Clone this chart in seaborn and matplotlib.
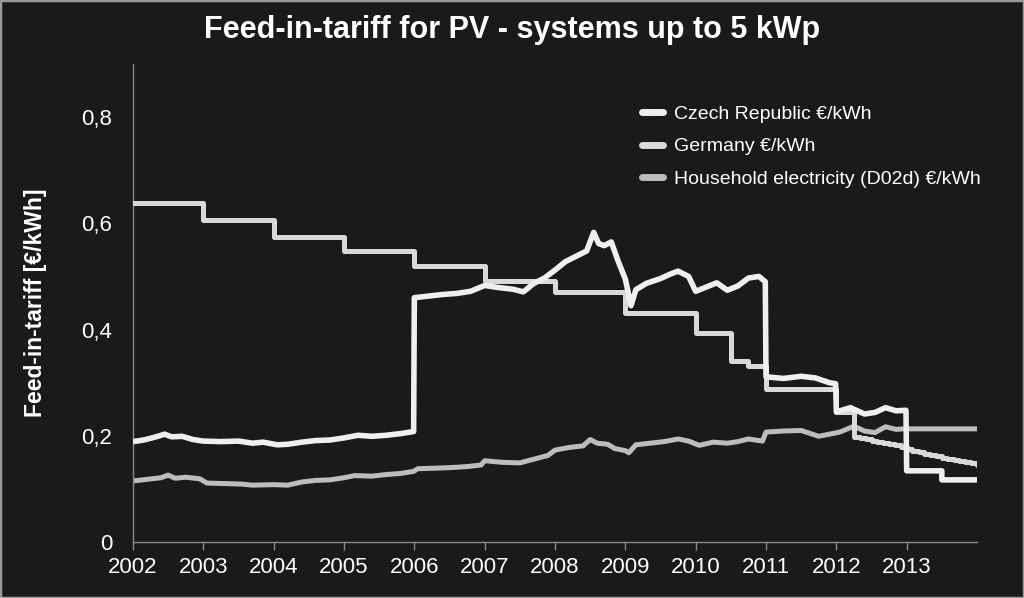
import numpy as np
import pandas as pd
import matplotlib
matplotlib.use("Agg")
import matplotlib.pyplot as plt
from matplotlib.patches import Rectangle
import seaborn as sns

sns.set_theme(style="ticks")
plt.rcParams['font.family'] = ['Liberation Sans', 'DejaVu Sans']

# Czech Republic feed-in tariff (converted to EUR, so it wiggles with the exchange rate)
cz_year = [2002.00, 2002.15, 2002.30, 2002.45, 2002.55, 2002.70, 2002.85, 2003.00,
           2003.25, 2003.50, 2003.70, 2003.85, 2004.05, 2004.20, 2004.40, 2004.60,
           2004.80, 2005.00, 2005.20, 2005.40, 2005.60, 2005.80, 2005.99,
           2006.00, 2006.20, 2006.40, 2006.60, 2006.80, 2007.00, 2007.20, 2007.40,
           2007.55, 2007.70, 2007.85, 2008.00, 2008.15, 2008.30, 2008.45, 2008.55,
           2008.62, 2008.70, 2008.80, 2008.90, 2009.00, 2009.08, 2009.15, 2009.30,
           2009.50, 2009.65, 2009.75, 2009.90, 2010.00, 2010.15, 2010.30, 2010.45,
           2010.60, 2010.75, 2010.90, 2010.99,
           2011.00, 2011.25, 2011.50, 2011.70, 2011.90, 2011.99,
           2012.00, 2012.20, 2012.40, 2012.55, 2012.70, 2012.85, 2012.99,
           2013.00, 2013.50, 2013.50, 2014.00]
cz_value = [0.189, 0.192, 0.197, 0.203, 0.198, 0.199, 0.193, 0.190,
            0.189, 0.190, 0.186, 0.188, 0.183, 0.184, 0.188, 0.191,
            0.192, 0.196, 0.201, 0.199, 0.201, 0.204, 0.208,
            0.460, 0.463, 0.466, 0.468, 0.472, 0.483, 0.479, 0.476,
            0.471, 0.487, 0.497, 0.512, 0.528, 0.538, 0.548, 0.583,
            0.562, 0.558, 0.565, 0.528, 0.495, 0.445, 0.475, 0.487,
            0.496, 0.505, 0.510, 0.500, 0.472, 0.480, 0.488, 0.474,
            0.482, 0.497, 0.500, 0.490,
            0.311, 0.308, 0.312, 0.309, 0.300, 0.298,
            0.245, 0.253, 0.241, 0.244, 0.253, 0.247, 0.248,
            0.134, 0.134, 0.117, 0.117]

# Germany feed-in tariff (step function)
de_year = [2002.0, 2003.0, 2004.0, 2005.0, 2006.0, 2007.0, 2008.0, 2009.0, 2010.0,
           2010.5, 2010.75, 2011.0, 2012.0, 2012.25, 2012.33, 2012.42, 2012.5,
           2012.58, 2012.67, 2012.75, 2012.83, 2012.92, 2013.0, 2013.08, 2013.17,
           2013.25, 2013.33, 2013.42, 2013.5, 2013.58, 2013.67, 2013.75, 2013.83,
           2013.92, 2014.0]
de_value = [0.638, 0.607, 0.575, 0.547, 0.519, 0.492, 0.470, 0.432, 0.394,
            0.341, 0.332, 0.289, 0.245, 0.198, 0.195, 0.193, 0.191,
            0.189, 0.187, 0.185, 0.183, 0.179, 0.175, 0.172, 0.169,
            0.166, 0.163, 0.161, 0.158, 0.156, 0.154, 0.152, 0.150,
            0.148, 0.145]

# Household electricity price D02d
hh_year = [2002.00, 2002.20, 2002.40, 2002.50, 2002.60, 2002.75, 2002.95, 2003.05,
           2003.30, 2003.55, 2003.70, 2004.00, 2004.20, 2004.40, 2004.60, 2004.80,
           2005.00, 2005.15, 2005.40, 2005.60, 2005.80, 2005.99, 2006.05, 2006.30,
           2006.50, 2006.75, 2006.95, 2007.00, 2007.25, 2007.50, 2007.70, 2007.90,
           2008.00, 2008.20, 2008.40, 2008.50, 2008.60, 2008.75, 2008.85, 2009.00,
           2009.05, 2009.15, 2009.35, 2009.55, 2009.75, 2009.90, 2010.05, 2010.25,
           2010.45, 2010.60, 2010.75, 2010.95, 2011.00, 2011.25, 2011.50, 2011.75,
           2011.90, 2012.05, 2012.25, 2012.40, 2012.55, 2012.70, 2012.85, 2012.95,
           2014.00]
hh_value = [0.115, 0.118, 0.121, 0.126, 0.120, 0.122, 0.119, 0.111,
            0.110, 0.109, 0.107, 0.108, 0.107, 0.113, 0.116, 0.117,
            0.121, 0.125, 0.124, 0.127, 0.129, 0.133, 0.138, 0.139,
            0.140, 0.142, 0.145, 0.153, 0.150, 0.149, 0.156, 0.163,
            0.173, 0.178, 0.181, 0.193, 0.186, 0.184, 0.176, 0.172,
            0.168, 0.183, 0.186, 0.189, 0.194, 0.190, 0.182, 0.188,
            0.186, 0.189, 0.194, 0.190, 0.207, 0.209, 0.210, 0.199,
            0.203, 0.207, 0.218, 0.209, 0.206, 0.217, 0.212, 0.213,
            0.213]

series_labels = ["Czech Republic €/kWh", "Germany €/kWh", "Household electricity (D02d) €/kWh"]
x_ticks = list(range(2002, 2014))
y_ticks = [0, 0.2, 0.4, 0.6, 0.8]
y_tick_labels = ["0", "0,2", "0,4", "0,6", "0,8"]

bg = "#1a1a1a"
fig = plt.figure(figsize=(10.24, 5.98), dpi=100, facecolor=bg)
ax = fig.add_axes([133 / 1024, 1 - 542 / 598, 844 / 1024, 478 / 598])
ax.set_facecolor(bg)

cz = pd.DataFrame({"year": cz_year, "value": cz_value})
de = pd.DataFrame({"year": de_year, "value": de_value})
hh = pd.DataFrame({"year": hh_year, "value": hh_value})

sns.lineplot(data=cz, x="year", y="value", ax=ax, estimator=None, sort=False,
             color="#efefef", linewidth=4.0, label=series_labels[0], zorder=4,
             solid_joinstyle="round", solid_capstyle="butt")
sns.lineplot(data=de, x="year", y="value", ax=ax, estimator=None, sort=False,
             color="#d9d9d9", linewidth=3.6, label=series_labels[1], zorder=3,
             drawstyle="steps-post")
sns.lineplot(data=hh, x="year", y="value", ax=ax, estimator=None, sort=False,
             color="#bdbdbd", linewidth=3.6, label=series_labels[2], zorder=2,
             solid_joinstyle="round")

ax.set_xlim(2002, 2014)
ax.set_ylim(0, 0.9)
ax.set_xticks(x_ticks)
ax.set_xticklabels([str(y) for y in x_ticks])
ax.set_yticks(y_ticks)
ax.set_yticklabels(y_tick_labels)

spine_col = "#8a8a8a"
for s in ["top", "right"]:
    ax.spines[s].set_visible(False)
for s in ["left", "bottom"]:
    ax.spines[s].set_color(spine_col)
    ax.spines[s].set_linewidth(1.0)

ax.tick_params(axis="x", colors=spine_col, length=6, width=1, pad=5,
               labelcolor="white", labelsize=16)
ax.tick_params(axis="y", length=0, pad=15, labelcolor="white", labelsize=16)

ax.set_xlabel("")
ax.set_ylabel("Feed-in-tariff [€/kWh]", color="white", fontsize=16.5, fontweight="bold")
ax.yaxis.set_label_coords(-0.102, 0.5)

fig.text(0.5, 1 - 30 / 598, "Feed-in-tariff for PV - systems up to 5 kWp",
         ha="center", va="center", color="white", fontsize=22, fontweight="bold")

leg = ax.legend(loc="upper left", bbox_to_anchor=(0.603, 0.914), frameon=False,
                fontsize=14, handlelength=1.1, handletextpad=0.55, labelspacing=0.78,
                borderpad=0, borderaxespad=0)
for t in leg.get_texts():
    t.set_color("white")
for h in leg.get_lines():
    h.set_linewidth(5)
    h.set_solid_capstyle("round")

fig.patches.append(Rectangle((0, 0), 1, 1, transform=fig.transFigure, fill=False,
                             edgecolor="#9a9a9a", linewidth=2.5, zorder=10))

fig.savefig("out.png", dpi=100, facecolor=bg)
